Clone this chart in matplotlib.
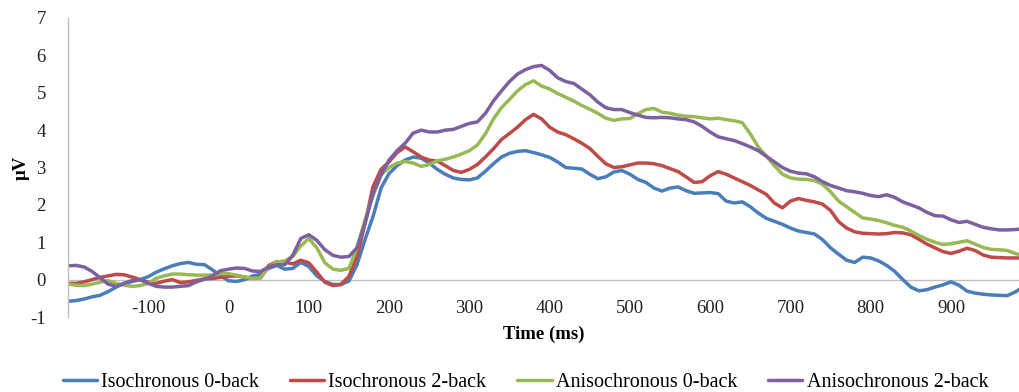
import numpy as np
import matplotlib
matplotlib.use("Agg")
import matplotlib.pyplot as plt

# Time axis (ms), 10 ms steps
time_ms = list(range(-200, 1000, 10))

iso_0back = [
    -0.58, -0.56, -0.52, -0.46, -0.42, -0.32, -0.20, -0.10, -0.05, 0.00,
    0.08, 0.20, 0.29, 0.37, 0.43, 0.46, 0.41, 0.40, 0.26, 0.10,
    -0.03, -0.05, 0.00, 0.10, 0.14, 0.30, 0.38, 0.28, 0.30, 0.46,
    0.35, 0.10, -0.05, -0.13, -0.13, -0.04, 0.40, 1.07, 1.69, 2.45,
    2.84, 3.05, 3.20, 3.28, 3.25, 3.12, 2.95, 2.82, 2.72, 2.68,
    2.67, 2.72, 2.90, 3.10, 3.28, 3.38, 3.43, 3.45, 3.40, 3.34,
    3.27, 3.15, 3.00, 2.98, 2.96, 2.82, 2.70, 2.75, 2.88, 2.92,
    2.82, 2.68, 2.60, 2.45, 2.37, 2.45, 2.48, 2.38, 2.31, 2.32,
    2.33, 2.30, 2.10, 2.05, 2.08, 1.95, 1.78, 1.64, 1.56, 1.48,
    1.38, 1.30, 1.26, 1.22, 1.07, 0.85, 0.68, 0.52, 0.46, 0.60,
    0.58, 0.50, 0.38, 0.22, 0.00, -0.20, -0.30, -0.27, -0.20, -0.14,
    -0.06, -0.15, -0.31, -0.36, -0.39, -0.41, -0.42, -0.43, -0.33, -0.20,
]

iso_2back = [
    -0.10, -0.10, -0.06, 0.00, 0.06, 0.10, 0.14, 0.13, 0.07, 0.00,
    -0.07, -0.10, -0.04, 0.00, -0.08, -0.06, -0.02, 0.02, 0.03, 0.06,
    0.09, 0.10, 0.07, 0.03, 0.05, 0.38, 0.48, 0.47, 0.42, 0.52,
    0.45, 0.20, -0.07, -0.16, -0.13, 0.09, 0.62, 1.50, 2.49, 2.95,
    3.15, 3.40, 3.55, 3.42, 3.28, 3.20, 3.17, 3.05, 2.92, 2.87,
    2.95, 3.08, 3.28, 3.50, 3.75, 3.91, 4.08, 4.28, 4.42, 4.30,
    4.08, 3.95, 3.88, 3.77, 3.65, 3.51, 3.30, 3.10, 3.00, 3.02,
    3.07, 3.12, 3.12, 3.10, 3.05, 2.97, 2.89, 2.75, 2.60, 2.62,
    2.78, 2.89, 2.82, 2.72, 2.62, 2.52, 2.40, 2.28, 2.05, 1.92,
    2.10, 2.17, 2.12, 2.08, 2.02, 1.85, 1.55, 1.38, 1.28, 1.24,
    1.23, 1.22, 1.23, 1.26, 1.25, 1.20, 1.08, 0.95, 0.85, 0.75,
    0.70, 0.76, 0.84, 0.78, 0.66, 0.60, 0.59, 0.58, 0.58, 0.58,
]

aniso_0back = [
    -0.12, -0.15, -0.16, -0.12, -0.07, -0.03, -0.10, -0.15, -0.18, -0.16,
    -0.10, 0.04, 0.10, 0.15, 0.15, 0.13, 0.12, 0.12, 0.12, 0.16,
    0.16, 0.12, 0.07, 0.03, 0.05, 0.35, 0.47, 0.50, 0.62, 0.90,
    1.10, 0.85, 0.45, 0.28, 0.25, 0.30, 0.85, 1.60, 2.25, 2.80,
    3.00, 3.12, 3.16, 3.12, 3.03, 3.08, 3.18, 3.22, 3.28, 3.36,
    3.45, 3.60, 3.90, 4.30, 4.60, 4.82, 5.05, 5.22, 5.32, 5.18,
    5.10, 4.98, 4.88, 4.78, 4.66, 4.56, 4.45, 4.32, 4.26, 4.30,
    4.31, 4.44, 4.55, 4.58, 4.48, 4.45, 4.40, 4.37, 4.36, 4.33,
    4.30, 4.32, 4.28, 4.25, 4.20, 3.90, 3.55, 3.30, 3.05, 2.82,
    2.72, 2.69, 2.68, 2.65, 2.55, 2.35, 2.10, 1.95, 1.80, 1.65,
    1.62, 1.58, 1.52, 1.45, 1.40, 1.30, 1.18, 1.08, 1.00, 0.94,
    0.96, 1.00, 1.04, 0.95, 0.86, 0.81, 0.80, 0.78, 0.70, 0.64,
]

aniso_2back = [
    0.37, 0.38, 0.34, 0.22, 0.05, -0.12, -0.18, -0.10, -0.02, 0.00,
    -0.10, -0.18, -0.20, -0.20, -0.18, -0.16, -0.06, 0.01, 0.10, 0.24,
    0.28, 0.31, 0.30, 0.23, 0.22, 0.34, 0.40, 0.40, 0.65, 1.10,
    1.20, 1.05, 0.80, 0.65, 0.60, 0.62, 0.85, 1.50, 2.30, 2.80,
    3.20, 3.45, 3.65, 3.92, 4.00, 3.95, 3.95, 4.00, 4.02, 4.10,
    4.18, 4.22, 4.45, 4.78, 5.05, 5.30, 5.50, 5.62, 5.70, 5.73,
    5.60, 5.40, 5.30, 5.25, 5.10, 4.95, 4.75, 4.60, 4.55, 4.55,
    4.47, 4.40, 4.34, 4.33, 4.34, 4.33, 4.30, 4.28, 4.22, 4.10,
    3.95, 3.82, 3.77, 3.72, 3.64, 3.55, 3.45, 3.30, 3.15, 3.00,
    2.90, 2.85, 2.83, 2.75, 2.62, 2.52, 2.45, 2.38, 2.35, 2.31,
    2.25, 2.22, 2.27, 2.20, 2.08, 2.00, 1.92, 1.80, 1.71, 1.70,
    1.60, 1.53, 1.56, 1.48, 1.40, 1.36, 1.33, 1.33, 1.34, 1.36,
]

series_names = ["Isochronous 0-back", "Isochronous 2-back",
                "Anisochronous 0-back", "Anisochronous 2-back"]
series_colors = ["#4A7EBB", "#BE4B48", "#98B954", "#7D60A0"]
x_ticks = list(range(-100, 1000, 100))
y_ticks = list(range(-1, 8))

plt.rcParams['font.family'] = ['Liberation Serif', 'DejaVu Serif']
plt.rcParams['axes.unicode_minus'] = False

fig = plt.figure(figsize=(10.2, 3.92), dpi=100)
ax = fig.add_axes([68 / 1020, 75 / 392, 952 / 1020, 299 / 392])

for vals, name, col in zip([iso_0back, iso_2back, aniso_0back, aniso_2back],
                           series_names, series_colors):
    ax.plot(time_ms, vals, color=col, lw=2.5, label=name,
            solid_joinstyle='round', solid_capstyle='round')

ax.axhline(0, color='#BFBFBF', lw=1.0, zorder=0)
ax.set_xlim(-200, 986)
ax.set_ylim(-1, 7)
ax.set_xticks(x_ticks)
ax.set_yticks(y_ticks)
for s in ['top', 'right', 'bottom']:
    ax.spines[s].set_visible(False)
ax.spines['left'].set_color('#BFBFBF')
ax.spines['left'].set_linewidth(1.0)
ax.tick_params(axis='x', length=0, pad=-12, labelsize=13.5, colors='#222222')
ax.tick_params(axis='y', length=0, pad=16, labelsize=13.5, colors='#222222')

ax.set_xlabel("Time (ms)", fontsize=13.5, fontweight='bold')
ax.xaxis.set_label_coords(0.5, -0.03)
ax.set_ylabel("μV", fontsize=13.5, fontweight='bold')
ax.yaxis.set_label_coords(-0.04, 0.5)

fig.legend(loc='center', bbox_to_anchor=(0.515, 10 / 392),
           ncol=4, frameon=False, fontsize=14.5, handlelength=1.7,
           handletextpad=0.2, columnspacing=1.55, borderaxespad=0)

fig.savefig("out.png", dpi=100)
